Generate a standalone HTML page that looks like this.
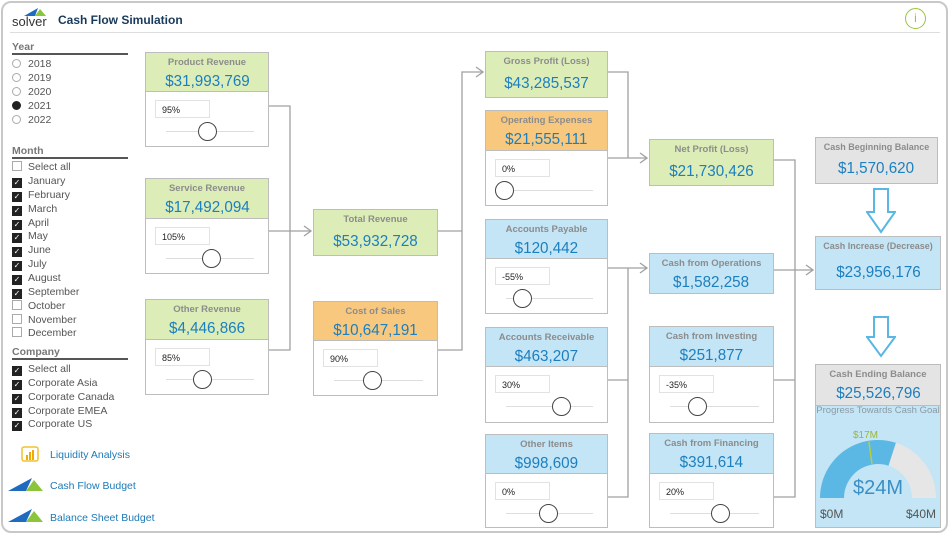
<!DOCTYPE html><html><head><meta charset="utf-8"><style>
*{box-sizing:border-box;margin:0;padding:0}
body{width:950px;height:536px;background:#fff;font-family:"Liberation Sans","DejaVu Sans",sans-serif;position:relative;overflow:hidden}
.frame{position:absolute;left:1px;top:1px;width:947px;height:532px;border:2px solid #c8c8c8;border-radius:10px}
.a{position:absolute}
.h{position:absolute;border:1px solid #bdbdbd;text-align:center;white-space:nowrap}
.h .t{font-size:9.5px;font-weight:bold;color:#8c8c8c;margin-top:4px}
.h .v{font-size:16px;color:#1b7fc0;margin-top:5px;display:inline-block;transform:scaleX(0.95)}
.g{background:#dcedb8}.o{background:#f8c87e}.b{background:#c3e5f6}.y{background:#e4e4e4}
.c{position:absolute;border:1px solid #bdbdbd;background:#fff}
.c .in{position:absolute;left:9px;top:8px;width:55px;height:18px;border:1px solid #e2e2e2;font-size:9px;padding:4px 0 0 6px;color:#222}
.c .sl{position:absolute;left:20px;right:14px;top:39px;height:1px;background:#ddd}
.c .k{position:absolute;top:30px;width:19px;height:19px;border:1.5px solid #444;border-radius:50%;background:#fff}
.lt{position:absolute;left:12px;font-size:10.5px;font-weight:bold;color:#777;width:116px;border-bottom:2px solid #555;height:14px}
.it{position:absolute;left:12px;font-size:10.5px;color:#555;white-space:nowrap}
.rd{display:inline-block;width:9px;height:9px;border:1px solid #aaa;border-radius:50%;vertical-align:-1px;margin-right:7px}
.cb{display:inline-block;width:10px;height:10px;background:#222;vertical-align:-1px;margin-right:6px;color:#fff;font-size:8px;line-height:10px;text-align:center}
.ln{position:absolute;left:50px;font-size:10.5px;color:#1c7ab8}
</style></head><body>
<div class="frame"></div>
<div class="a" style="left:12px;top:14px;font-size:13px;color:#333">solver</div>
<svg class="a" style="left:24px;top:8px" width="22" height="8"><polygon points="0,8 14,0 11,8" fill="#1e6bbf"/><polygon points="11,8 16,1 22,8" fill="#8cc43c"/></svg>
<div class="a" style="left:58px;top:13px;font-size:12px;font-weight:bold;color:#183a5a">Cash Flow Simulation</div>
<div class="a" style="left:10px;top:32px;width:930px;height:1px;background:#ddd"></div>
<div class="a" style="left:905px;top:8px;width:21px;height:21px;border:1.5px solid #9bc43a;border-radius:50%;color:#9bc43a;font-size:12px;text-align:center;line-height:18px">i</div>

<div class="lt" style="top:41px">Year</div>
<div class="it" style="top:58px"><span class="rd"></span>2018</div>
<div class="it" style="top:72px"><span class="rd"></span>2019</div>
<div class="it" style="top:86px"><span class="rd"></span>2020</div>
<div class="it" style="top:100px"><span class="rd" style="border:3px double #222;background:#222"></span>2021</div>
<div class="it" style="top:114px"><span class="rd"></span>2022</div>
<div class="lt" style="top:145px">Month</div>
<div class="it" style="top:161px"><span class="cb" style="background:#fff;border:1px solid #aaa"></span>Select all</div>
<div class="it" style="top:175px"><span class="cb">✓</span>January</div>
<div class="it" style="top:189px"><span class="cb">✓</span>February</div>
<div class="it" style="top:203px"><span class="cb">✓</span>March</div>
<div class="it" style="top:217px"><span class="cb">✓</span>April</div>
<div class="it" style="top:230px"><span class="cb">✓</span>May</div>
<div class="it" style="top:244px"><span class="cb">✓</span>June</div>
<div class="it" style="top:258px"><span class="cb">✓</span>July</div>
<div class="it" style="top:272px"><span class="cb">✓</span>August</div>
<div class="it" style="top:286px"><span class="cb">✓</span>September</div>
<div class="it" style="top:300px"><span class="cb" style="background:#fff;border:1px solid #aaa"></span>October</div>
<div class="it" style="top:314px"><span class="cb" style="background:#fff;border:1px solid #aaa"></span>November</div>
<div class="it" style="top:327px"><span class="cb" style="background:#fff;border:1px solid #aaa"></span>December</div>
<div class="lt" style="top:346px">Company</div>
<div class="it" style="top:363px"><span class="cb">✓</span>Select all</div>
<div class="it" style="top:377px"><span class="cb">✓</span>Corporate Asia</div>
<div class="it" style="top:391px"><span class="cb">✓</span>Corporate Canada</div>
<div class="it" style="top:405px"><span class="cb">✓</span>Corporate EMEA</div>
<div class="it" style="top:418px"><span class="cb">✓</span>Corporate US</div>
<svg class="a" style="left:21px;top:446px" width="18" height="16"><rect x="1" y="1" width="16" height="14" rx="2" fill="none" stroke="#f2c12e" stroke-width="1.5"/><rect x="5" y="9" width="2" height="5" fill="#f2a900"/><rect x="8" y="6" width="2" height="8" fill="#f2a900"/><rect x="11" y="4" width="2" height="10" fill="#f2a900"/></svg>
<div class="ln" style="top:449px">Liquidity Analysis</div>
<svg class="a" style="left:8px;top:478px" width="36" height="14"><polygon points="0,13 24,0 18,13" fill="#1e6bbf"/><polygon points="18,13 26,2 35,13" fill="#8cc43c"/></svg>
<div class="ln" style="top:480px">Cash Flow Budget</div>
<svg class="a" style="left:8px;top:509px" width="36" height="14"><polygon points="0,13 24,0 18,13" fill="#1e6bbf"/><polygon points="18,13 26,2 35,13" fill="#8cc43c"/></svg>
<div class="ln" style="top:512px">Balance Sheet Budget</div>

<svg class="a" style="left:0;top:0" width="950" height="536" fill="none" stroke="#a0a0a0" stroke-width="1.3">
<path d="M268 106H290V350H268M268 231H310M437 231H462V72H482M462 72V350H437M607 72H628V158H646M607 158H628M607 268H628V497H607M607 380H628M628 268H646M773 160H795V497H773M773 270H812M773 380H795"/>
<path d="M304 226L311 231L304 236M476 67L483 72L476 77M640 153L647 158L640 163M640 263L647 268L640 273M806 265L813 270L806 275"/>
</svg>

<div class="h g" style="left:145px;top:52px;width:124px;height:40px"><div class="t">Product Revenue</div><div class="v">$31,993,769</div></div>
<div class="c" style="left:145px;top:91px;width:124px;height:56px"><div class="in">95%</div><div class="sl"></div><div class="k" style="left:52px"></div></div>
<div class="h g" style="left:145px;top:178px;width:124px;height:41px"><div class="t">Service Revenue</div><div class="v">$17,492,094</div></div>
<div class="c" style="left:145px;top:218px;width:124px;height:56px"><div class="in">105%</div><div class="sl"></div><div class="k" style="left:56px"></div></div>
<div class="h g" style="left:145px;top:299px;width:124px;height:41px"><div class="t">Other Revenue</div><div class="v">$4,446,866</div></div>
<div class="c" style="left:145px;top:339px;width:124px;height:56px"><div class="in">85%</div><div class="sl"></div><div class="k" style="left:47px"></div></div>

<div class="h g" style="left:313px;top:209px;width:125px;height:47px"><div class="t" style="margin-top:4px">Total Revenue</div><div class="v" style="margin-top:8px">$53,932,728</div></div>
<div class="h o" style="left:313px;top:301px;width:125px;height:40px"><div class="t">Cost of Sales</div><div class="v">$10,647,191</div></div>
<div class="c" style="left:313px;top:340px;width:125px;height:56px"><div class="in">90%</div><div class="sl"></div><div class="k" style="left:49px"></div></div>

<div class="h g" style="left:485px;top:51px;width:123px;height:47px"><div class="t">Gross Profit (Loss)</div><div class="v" style="margin-top:8px">$43,285,537</div></div>
<div class="h o" style="left:485px;top:110px;width:123px;height:41px"><div class="t">Operating Expenses</div><div class="v">$21,555,111</div></div>
<div class="c" style="left:485px;top:150px;width:123px;height:56px"><div class="in">0%</div><div class="sl"></div><div class="k" style="left:9px"></div></div>
<div class="h b" style="left:485px;top:219px;width:123px;height:40px"><div class="t">Accounts Payable</div><div class="v">$120,442</div></div>
<div class="c" style="left:485px;top:258px;width:123px;height:56px"><div class="in">-55%</div><div class="sl"></div><div class="k" style="left:27px"></div></div>
<div class="h b" style="left:485px;top:327px;width:123px;height:40px"><div class="t">Accounts Receivable</div><div class="v">$463,207</div></div>
<div class="c" style="left:485px;top:366px;width:123px;height:57px"><div class="in">30%</div><div class="sl"></div><div class="k" style="left:66px"></div></div>
<div class="h b" style="left:485px;top:434px;width:123px;height:40px"><div class="t">Other Items</div><div class="v">$998,609</div></div>
<div class="c" style="left:485px;top:473px;width:123px;height:55px"><div class="in">0%</div><div class="sl"></div><div class="k" style="left:53px"></div></div>

<div class="h g" style="left:649px;top:139px;width:125px;height:47px"><div class="t">Net Profit (Loss)</div><div class="v" style="margin-top:8px">$21,730,426</div></div>
<div class="h b" style="left:649px;top:253px;width:125px;height:41px"><div class="t">Cash from Operations</div><div class="v">$1,582,258</div></div>
<div class="h b" style="left:649px;top:326px;width:125px;height:41px"><div class="t">Cash from Investing</div><div class="v">$251,877</div></div>
<div class="c" style="left:649px;top:366px;width:125px;height:57px"><div class="in">-35%</div><div class="sl"></div><div class="k" style="left:38px"></div></div>
<div class="h b" style="left:649px;top:433px;width:125px;height:41px"><div class="t">Cash from Financing</div><div class="v">$391,614</div></div>
<div class="c" style="left:649px;top:473px;width:125px;height:55px"><div class="in">20%</div><div class="sl"></div><div class="k" style="left:61px"></div></div>

<div class="h y" style="left:815px;top:137px;width:123px;height:47px"><div class="t" style="font-size:9px">Cash Beginning Balance</div><div class="v" style="margin-top:8px">$1,570,620</div></div>
<svg class="a" style="left:866px;top:188px" width="30" height="46"><polygon points="8,1 22,1 22,24 29,24 15,44 1,24 8,24" fill="#fff" stroke="#5ab7e3" stroke-width="2"/></svg>
<div class="h b" style="left:815px;top:236px;width:126px;height:54px"><div class="t" style="font-size:9px">Cash Increase (Decrease)</div><div class="v" style="margin-top:13px">$23,956,176</div></div>
<svg class="a" style="left:866px;top:316px" width="30" height="42"><polygon points="8,1 22,1 22,21 29,21 15,40 1,21 8,21" fill="#fff" stroke="#5ab7e3" stroke-width="2"/></svg>
<div class="h y" style="left:815px;top:364px;width:126px;height:42px"><div class="t">Cash Ending Balance</div><div class="v">$25,526,796</div></div>
<div class="a" style="left:815px;top:405px;width:126px;height:123px;background:#c3e5f6;border:1px solid #bdbdbd"></div>
<div class="a" style="left:815px;top:405px;width:126px;text-align:center;font-size:9.5px;color:#8a9aa5;white-space:nowrap">Progress Towards Cash Goal</div>
<svg class="a" style="left:815px;top:405px" width="126" height="123">
<path d="M5 93A58 58 0 0 1 121 93L97 93A34 34 0 0 0 29 93Z" fill="#e6e6e6"/>
<path d="M5 93A58 58 0 0 1 80.9 37.8L73.5 60.7A34 34 0 0 0 29 93Z" fill="#5bb8e4"/>
<line x1="53.9" y1="36.3" x2="57" y2="59" stroke="#b6cf3a" stroke-width="1.5"/>
<text x="38" y="33" font-size="10" fill="#9ab832" font-family="Liberation Sans">$17M</text>
<text x="63" y="89" font-size="20" fill="#3a8fc5" text-anchor="middle" font-family="Liberation Sans">$24M</text>
<text x="5" y="113" font-size="12" fill="#555" font-family="Liberation Sans">$0M</text>
<text x="121" y="113" font-size="12" fill="#555" text-anchor="end" font-family="Liberation Sans">$40M</text>
</svg>
</body></html>
